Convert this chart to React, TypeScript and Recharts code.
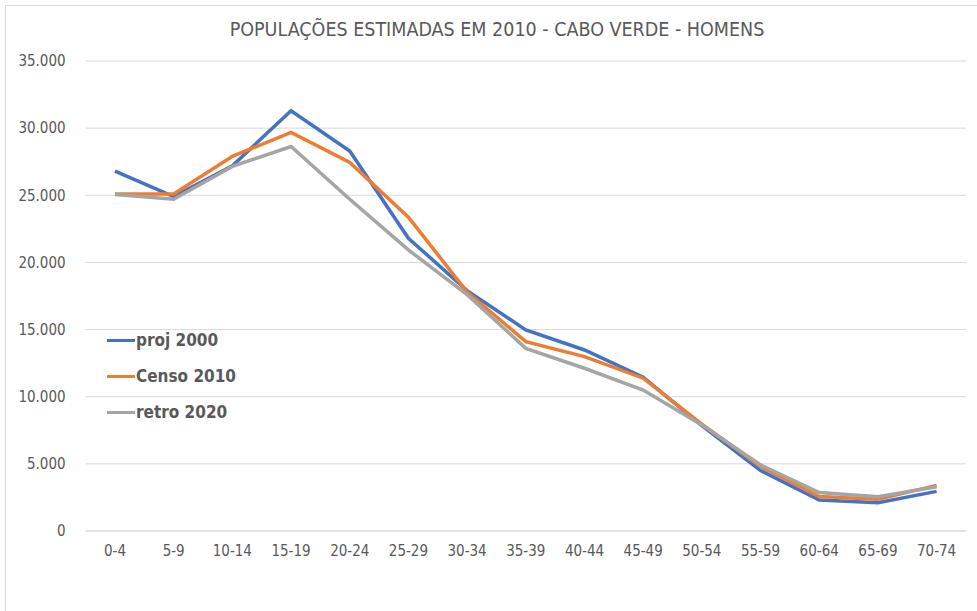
import { LineChart, Line, XAxis, YAxis, CartesianGrid, Legend } from "recharts";

const ageGroups = [
  "0-4", "5-9", "10-14", "15-19", "20-24", "25-29", "30-34", "35-39",
  "40-44", "45-49", "50-54", "55-59", "60-64", "65-69", "70-74",
];
const proj2000 = [26800, 24900, 27200, 31300, 28300, 21800, 17900, 14980, 13480, 11450, 7850, 4500, 2310, 2110, 2950];
const censo2010 = [25100, 25100, 27900, 29680, 27440, 23370, 17800, 14100, 12990, 11380, 7950, 4800, 2560, 2360, 3400];
const retro2020 = [25050, 24700, 27150, 28630, 24700, 20930, 17600, 13600, 12120, 10500, 7900, 4920, 2860, 2560, 3300];
const yTicks = [0, 5000, 10000, 15000, 20000, 25000, 30000, 35000];

const series = [
  { key: "proj", name: "proj 2000", color: "#4472C4" },
  { key: "censo", name: "Censo 2010", color: "#ED7D31" },
  { key: "retro", name: "retro 2020", color: "#A5A5A5" },
];

const data = ageGroups.map((g, i) => ({
  age: g,
  proj: proj2000[i],
  censo: censo2010[i],
  retro: retro2020[i],
}));

const font = "'Liberation Sans Narrow', 'DejaVu Sans Condensed', 'Open Sans', sans-serif";
const fmt = (v: number) => String(v).replace(/\B(?=(\d{3})+(?!\d))/g, ".");

const LegendBox = () => (
  <div>
    {series.map((s) => (
      <div key={s.key} style={{ display: "flex", alignItems: "center", height: 36 }}>
        <span style={{ width: 28, height: 3, background: s.color, display: "inline-block" }} />
        <span style={{ fontWeight: "bold", fontSize: 17, color: "#595959", marginLeft: 1, fontFamily: font }}>
          {s.name}
        </span>
      </div>
    ))}
  </div>
);

export default function App() {
  return (
    <div style={{ position: "absolute", left: 0, top: 0, width: 977, height: 611, background: "#fff", overflow: "hidden" }}>
      <div style={{ position: "absolute", left: 5, top: 5, width: 990, height: 620, border: "1px solid #d9d9d9" }} />
      <div
        style={{
          position: "absolute",
          top: 18,
          left: 0,
          width: 994,
          textAlign: "center",
          fontFamily: font,
          fontSize: 19.5,
          color: "#595959",
        }}
      >
        POPULAÇÕES ESTIMADAS EM 2010 - CABO VERDE - HOMENS
      </div>
      <div style={{ position: "absolute", left: 0, top: 0 }}>
        <LineChart width={977} height={611} data={data} margin={{ top: 61, right: 11, left: 0, bottom: 50 }}>
          <CartesianGrid vertical={false} stroke="#d9d9d9" />
          <XAxis
            dataKey="age"
            height={30}
            padding={{ left: 29.4, right: 29.4 }}
            tickLine={false}
            axisLine={{ stroke: "#d9d9d9" }}
            tickMargin={8}
            tick={{ fill: "#595959", fontSize: 15, fontFamily: font }}
            interval={0}
          />
          <YAxis
            width={85.6}
            domain={[0, 35000]}
            ticks={yTicks}
            tickFormatter={fmt}
            tickLine={false}
            axisLine={false}
            tickMargin={14}
            tick={{ fill: "#595959", fontSize: 15, fontFamily: font }}
          />
          <Legend
            layout="vertical"
            align="center"
            verticalAlign="middle"
            wrapperStyle={{ left: 107, top: 322, width: 160 }}
            content={() => <LegendBox />}
          />
          {series.map((s) => (
            <Line
              key={s.key}
              type="linear"
              dataKey={s.key}
              name={s.name}
              stroke={s.color}
              strokeWidth={3.5}
              dot={false}
              activeDot={false}
              isAnimationActive={false}
            />
          ))}
        </LineChart>
      </div>
    </div>
  );
}
